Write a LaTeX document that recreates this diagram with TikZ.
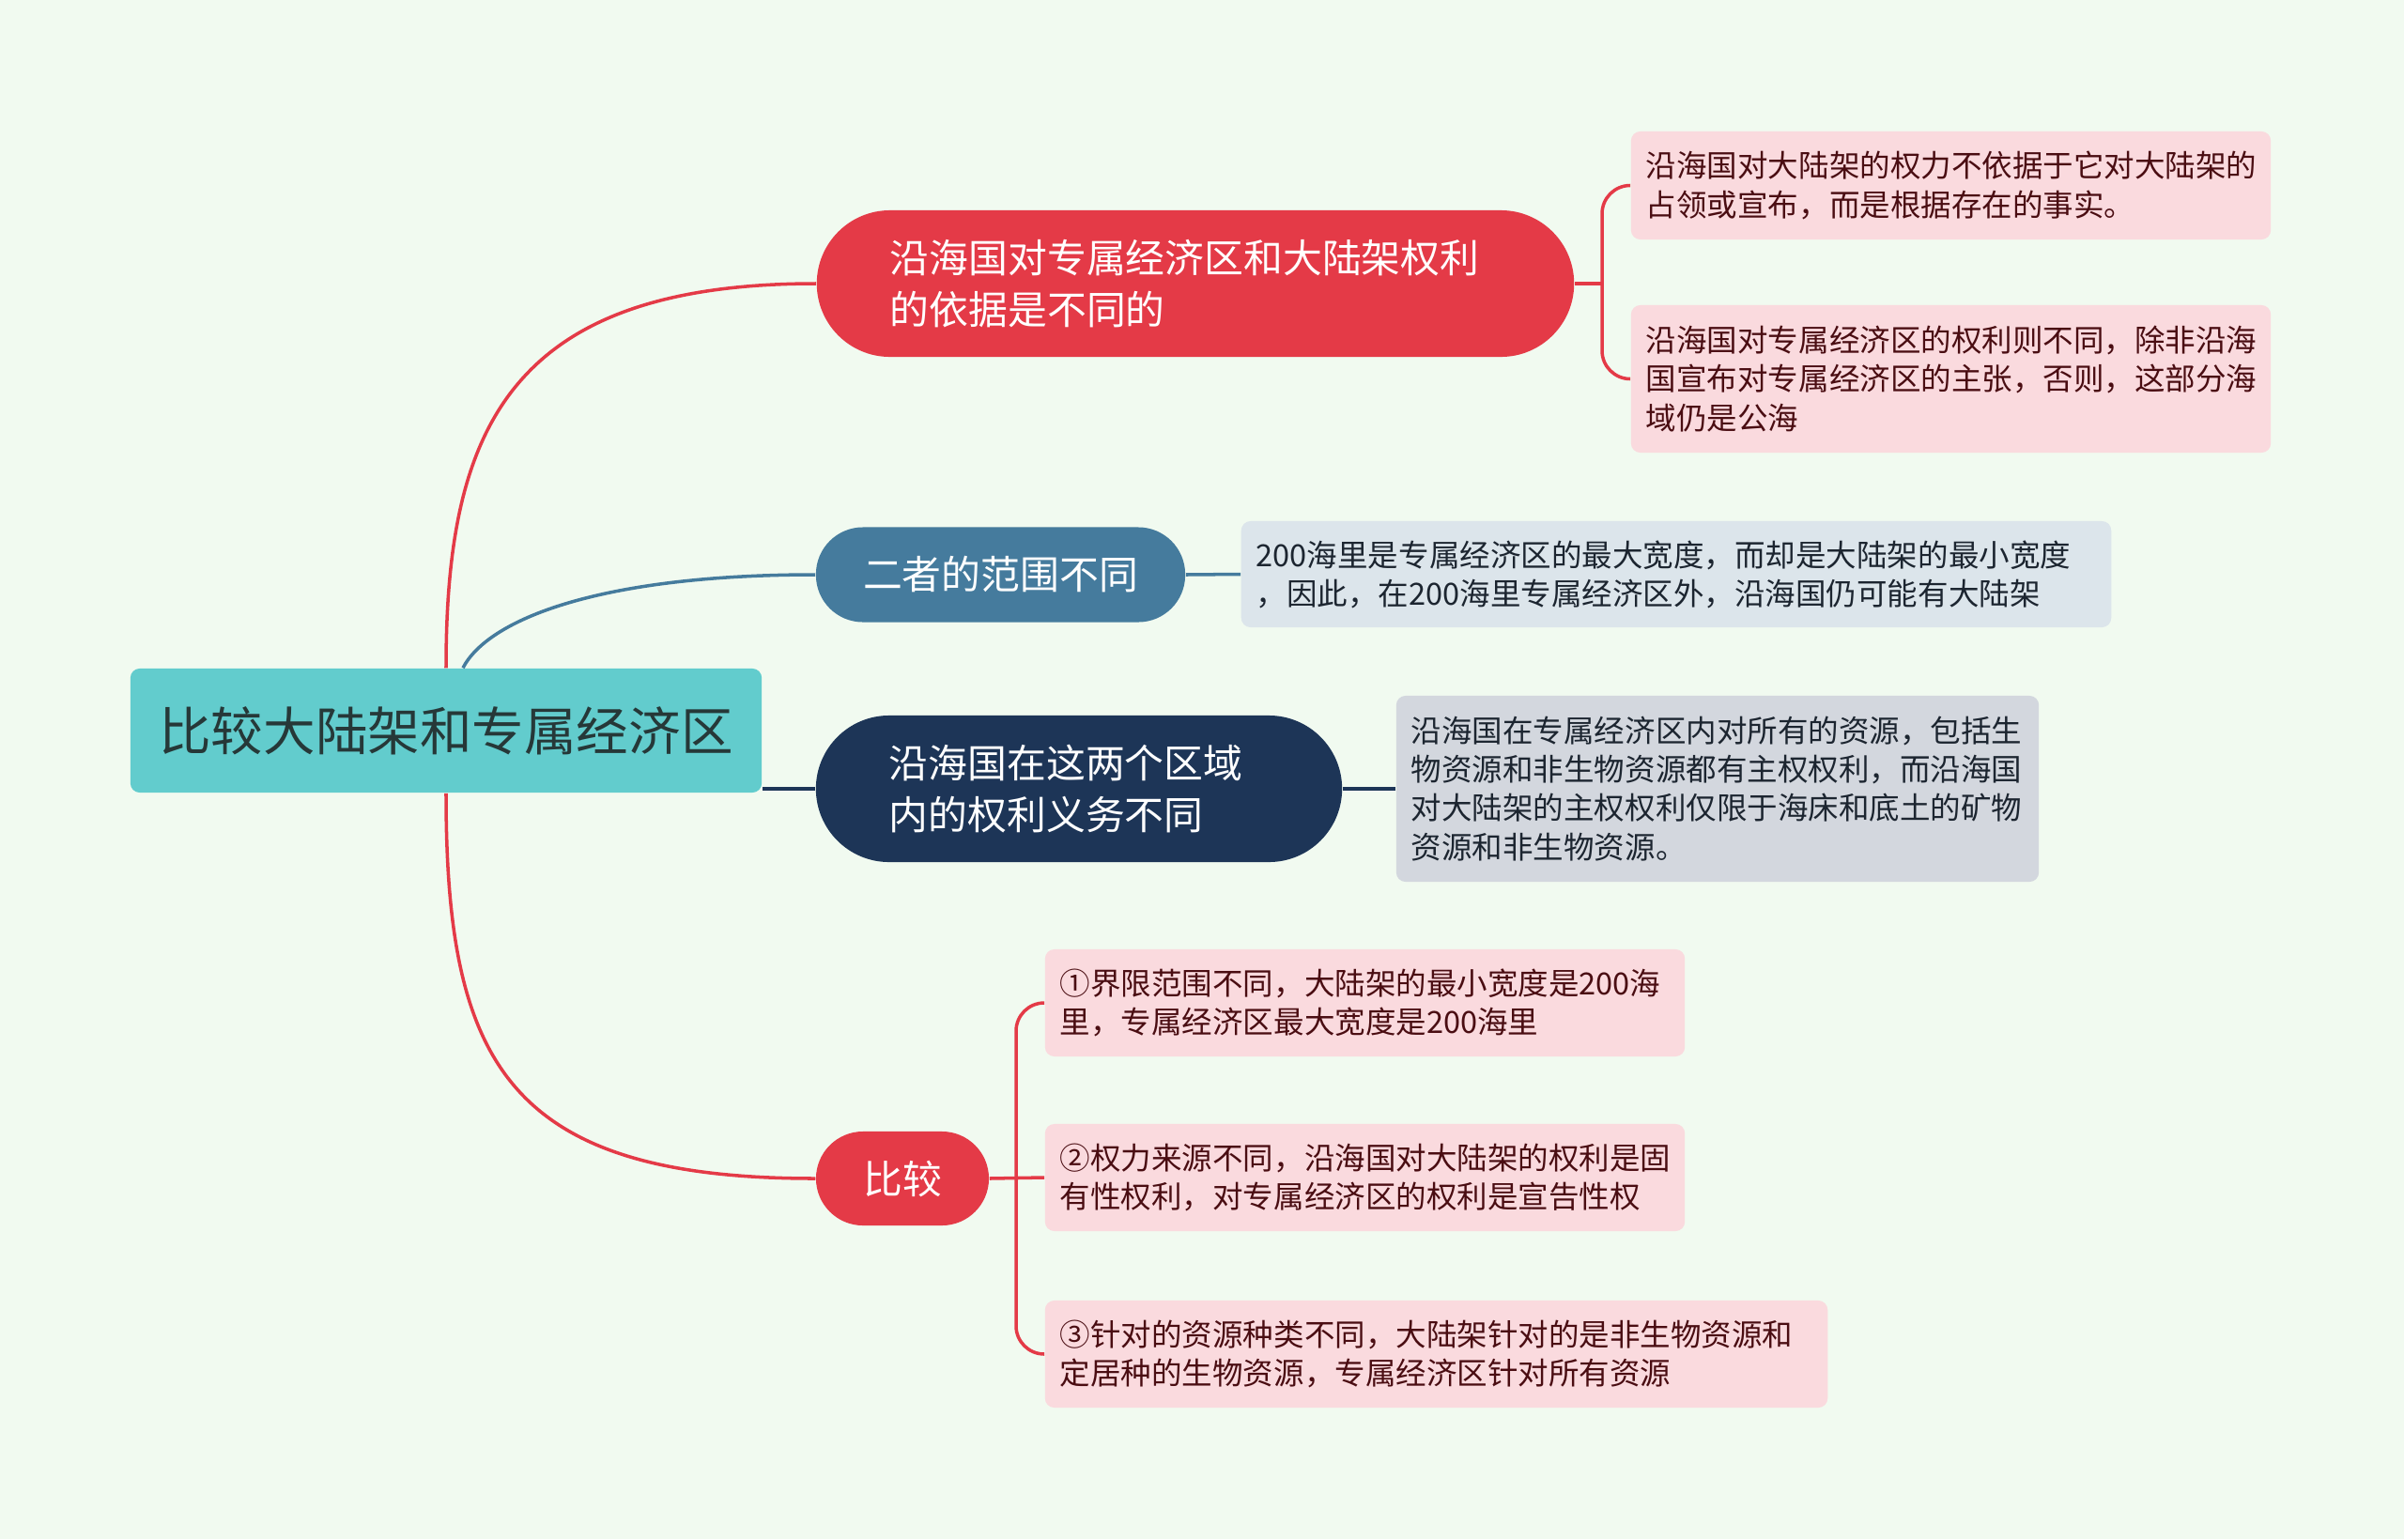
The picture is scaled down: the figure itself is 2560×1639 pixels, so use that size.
\documentclass[tikz,border=0pt]{standalone}
\usepackage{fontspec}
\setmainfont{Noto Sans CJK SC}

\definecolor{bgmint}{HTML}{F1FAF0}
\definecolor{rootteal}{HTML}{62CCCD}
\definecolor{roottext}{HTML}{263838}
\definecolor{mapred}{HTML}{E43A47}
\definecolor{mapblue}{HTML}{457B9D}
\definecolor{mapnavy}{HTML}{1D3557}
\definecolor{leafpink}{HTML}{FADADE}
\definecolor{leaftextred}{HTML}{4A0D12}
\definecolor{leafblue}{HTML}{DCE5EB}
\definecolor{leafgrey}{HTML}{D3D7DE}
\definecolor{leaftextdark}{HTML}{1C2530}

\tikzset{
  rootbox/.style = {fill=rootteal, text=roottext, rounded corners=0.1cm,
                    minimum width=6.72cm, minimum height=1.32cm,
                    font=\fontsize{15.8}{19}\selectfont},
  branchbox/.style = {text=white, inner xsep=0.78cm, align=left,
                      font=\fontsize{11.9}{15.6}\selectfont},
  leafbox/.style = {rounded corners=0.1cm, inner xsep=0.16cm, align=left,
                    font=\fontsize{9.25}{11.7}\selectfont},
  pinkleaf/.style = {leafbox, fill=leafpink, text=leaftextred},
  link/.style = {line width=1pt}
}

\begin{document}
\begin{tikzpicture}[x=0.01cm, y=-0.01cm]
    \fill[bgmint] (0,0) rectangle (2560,1639);
    \useasboundingbox (0,0) rectangle (2560,1639);

    \node[rootbox] (root) at (475,778) {比较大陆架和专属经济区};

    % branch 1 (red, 2 leaves)
    \node[branchbox, fill=mapred, rounded corners=0.78cm, text width=6.5cm,
          minimum height=1.56cm] (b1) at (1273,302)
          {沿海国对专属经济区和大陆架权利\\的依据是不同的};
    \node[pinkleaf, text width=6.49cm, minimum height=1.15cm] (l1a) at (2077.5,197.5)
          {沿海国对大陆架的权力不依据于它对大陆架的\\占领或宣布，而是根据存在的事实。};
    \node[pinkleaf, text width=6.49cm, minimum height=1.57cm] (l1b) at (2077.5,403.5)
          {沿海国对专属经济区的权利则不同，除非沿海\\国宣布对专属经济区的主张，否则，这部分海\\域仍是公海};

    % branch 2 (blue, 1 leaf)
    \node[branchbox, fill=mapblue, rounded corners=0.5cm, align=center,
          inner xsep=0pt, minimum width=3.93cm, minimum height=1.01cm] (b2) at (1065.5,612)
          {二者的范围不同};
    \node[leafbox, fill=leafblue, text=leaftextdark, text width=8.94cm,
          minimum height=1.13cm] (l2) at (1785,611.5)
          {200海里是专属经济区的最大宽度，而却是大陆架的最小宽度\\，因此，在200海里专属经济区外，沿海国仍可能有大陆架};

    % branch 3 (navy, 1 leaf)
    \node[branchbox, fill=mapnavy, rounded corners=0.78cm, text width=4.04cm,
          minimum height=1.56cm] (b3) at (1149,840)
          {沿海国在这两个区域\\内的权利义务不同};
    \node[leafbox, fill=leafgrey, text=leaftextdark, text width=6.52cm,
          minimum height=1.98cm] (l3) at (1829,840)
          {沿海国在专属经济区内对所有的资源，包括生\\物资源和非生物资源都有主权权利，而沿海国\\对大陆架的主权权利仅限于海床和底土的矿物\\资源和非生物资源。};

    % branch 4 (red, 3 leaves)
    \node[branchbox, fill=mapred, rounded corners=0.5cm, align=center,
          inner xsep=0pt, minimum width=1.84cm, minimum height=1.0cm] (b4) at (961,1255)
          {比较};
    \node[pinkleaf, text width=6.49cm, minimum height=1.14cm] (l4a) at (1453.5,1068)
          {①界限范围不同，大陆架的最小宽度是200海\\里，专属经济区最大宽度是200海里};
    \node[pinkleaf, text width=6.49cm, minimum height=1.14cm] (l4b) at (1453.5,1254)
          {②权力来源不同，沿海国对大陆架的权利是固\\有性权利，对专属经济区的权利是宣告性权};
    \node[pinkleaf, text width=8.01cm, minimum height=1.14cm] (l4c) at (1529.5,1442)
          {③针对的资源种类不同，大陆架针对的是非生物资源和\\定居种的生物资源，专属经济区针对所有资源};

    % root to branches
    \draw[link, mapred]  (root.north) .. controls +(0,-252) and +(-329,0) .. (b1.west);
    \draw[link, mapblue] ([xshift=0.18cm]root.north) .. controls +(27,-52) and +(-229,0) .. (b2.west);
    \draw[link, mapnavy, line width=1.3pt] (b3.west -| root.east) -- (b3.west);
    \draw[link, mapred]  (root.south) .. controls +(0,286) and +(-329,0) .. (b4.west);

    % branches to leaves
    \coordinate (j1) at (1706,302);
    \draw[link, mapred] (b1.east) -- (j1);
    \draw[link, mapred, rounded corners=0.3cm] (j1) |- (l1a.west);
    \draw[link, mapred, rounded corners=0.3cm] (j1) |- (l1b.west);

    \draw[link, mapblue] (b2.east) -- (l2.west);
    \draw[link, mapnavy, line width=1.3pt] (b3.east) -- (l3.west);

    \coordinate (j4) at (1082,1255);
    \draw[link, mapred] (b4.east) -- (l4b.west);
    \draw[link, mapred, rounded corners=0.3cm] (j4) |- (l4a.west);
    \draw[link, mapred, rounded corners=0.3cm] (j4) |- (l4c.west);
\end{tikzpicture}
\end{document}
